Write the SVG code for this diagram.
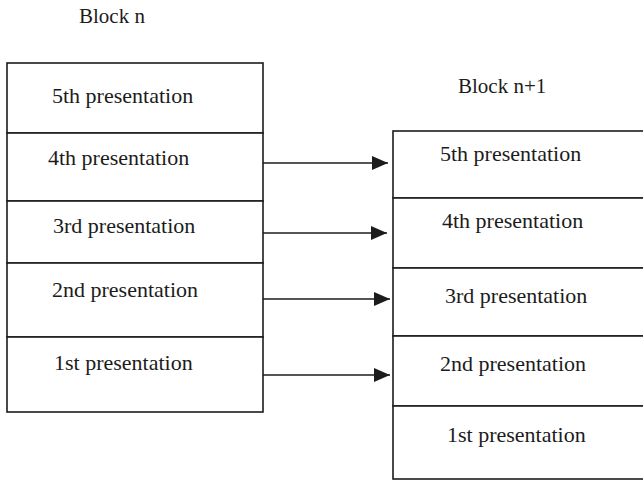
<svg xmlns="http://www.w3.org/2000/svg" width="643" height="481" viewBox="0 0 643 481">
<defs>
<style>
.cell{fill:#fff;stroke:#1c1c1c;stroke-width:1.6}
.lbl{font-family:"Liberation Serif","Times New Roman",serif;font-size:22px;fill:#1c1c1c}
.ttl{font-family:"Liberation Serif","Times New Roman",serif;font-size:21px;fill:#1c1c1c}
.conn{stroke:#1c1c1c;stroke-width:1.6;fill:none}
</style>
<marker id="ah" viewBox="0 0 16 14" refX="16" refY="7" markerWidth="16" markerHeight="14" markerUnits="userSpaceOnUse" orient="auto">
<path d="M0,0 L16,7 L0,14 Z" fill="#1c1c1c"/>
</marker>
</defs>
<rect width="643" height="481" fill="#fff"/>
<text class="ttl" x="79" y="23">Block n</text>
<text class="ttl" x="458" y="93">Block n+1</text>
<g id="blockn">
<g id="n5"><rect class="cell" x="7" y="63" width="256" height="70"/><text class="lbl" x="52" y="103">5th presentation</text></g>
<g id="n4"><rect class="cell" x="7" y="133" width="256" height="68"/><text class="lbl" x="48" y="165">4th presentation</text></g>
<g id="n3"><rect class="cell" x="7" y="201" width="256" height="62"/><text class="lbl" x="53" y="233">3rd presentation</text></g>
<g id="n2"><rect class="cell" x="7" y="263" width="256" height="74"/><text class="lbl" x="52" y="297">2nd presentation</text></g>
<g id="n1"><rect class="cell" x="7" y="337" width="256" height="75"/><text class="lbl" x="54" y="370">1st presentation</text></g>
</g>
<g id="blockn1">
<g id="m5"><rect class="cell" x="393" y="131" width="270" height="67"/><text class="lbl" x="440" y="161">5th presentation</text></g>
<g id="m4"><rect class="cell" x="393" y="198" width="270" height="70"/><text class="lbl" x="442" y="228">4th presentation</text></g>
<g id="m3"><rect class="cell" x="393" y="268" width="270" height="68"/><text class="lbl" x="445" y="303">3rd presentation</text></g>
<g id="m2"><rect class="cell" x="393" y="336" width="270" height="70"/><text class="lbl" x="440" y="371">2nd presentation</text></g>
<g id="m1"><rect class="cell" x="393" y="406" width="270" height="73"/><text class="lbl" x="447" y="442">1st presentation</text></g>
</g>
<g id="connectors">
<line class="conn" x1="263" y1="163" x2="388" y2="163" marker-end="url(#ah)"/>
<line class="conn" x1="263" y1="233" x2="387" y2="233" marker-end="url(#ah)"/>
<line class="conn" x1="263" y1="299" x2="390" y2="299" marker-end="url(#ah)"/>
<line class="conn" x1="263" y1="375" x2="390" y2="375" marker-end="url(#ah)"/>
</g>
</svg>
